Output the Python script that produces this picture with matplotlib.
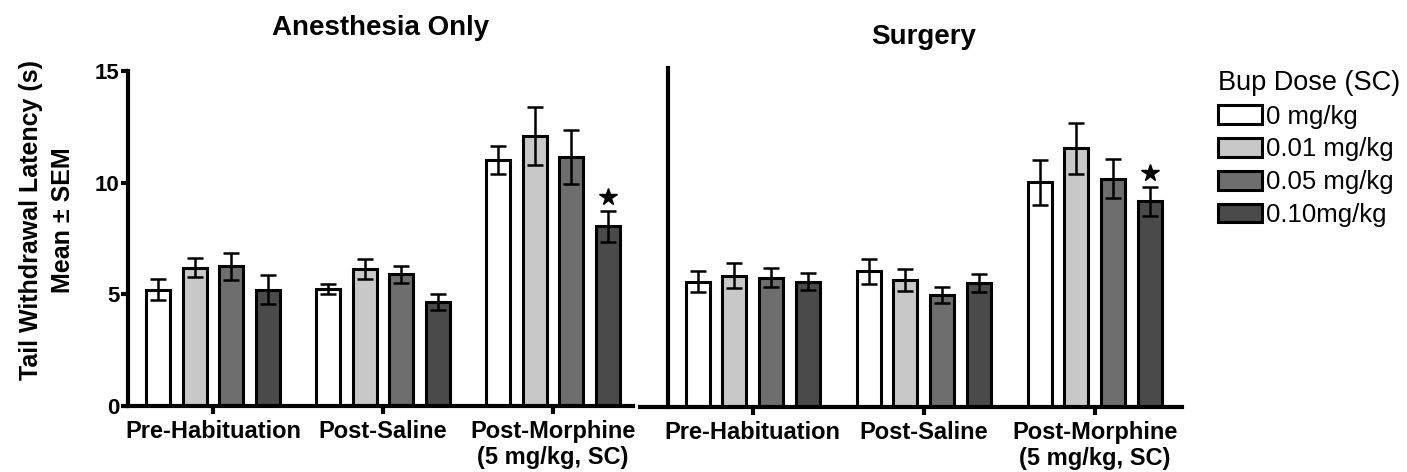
import numpy as np
import matplotlib
matplotlib.use('Agg')
import matplotlib.pyplot as plt
from matplotlib.patches import Patch

plt.rcParams['font.family'] = ['Liberation Sans', 'DejaVu Sans']

# 数据：分组、剂量、均值和SEM
groups = ['Pre-Habituation', 'Post-Saline', 'Post-Morphine\n(5 mg/kg, SC)']
doses = ['0 mg/kg', '0.01 mg/kg', '0.05 mg/kg', '0.10mg/kg']
colors = ['#ffffff', '#c8c8c8', '#6e6e6e', '#4a4a4a']

# Anesthesia Only, 每行一个剂量
anes_mean = [[5.2, 5.25, 11.0],
             [6.2, 6.15, 12.1],
             [6.25, 5.9, 11.15],
             [5.2, 4.65, 8.05]]
anes_sem = [[0.47, 0.22, 0.63],
            [0.42, 0.45, 1.3],
            [0.6, 0.38, 1.2],
            [0.65, 0.37, 0.7]]

# Surgery
surg_mean = [[5.55, 6.0, 9.95],
             [5.8, 5.62, 11.45],
             [5.73, 4.95, 10.1],
             [5.55, 5.47, 9.1]]
surg_sem = [[0.48, 0.54, 1.0],
            [0.55, 0.48, 1.13],
            [0.4, 0.36, 0.86],
            [0.36, 0.4, 0.64]]

# 显著性星号：(组, 剂量)
stars = [(2, 3)]

pitch = 0.215
width = 0.14
x = np.arange(len(groups))

fig = plt.figure(figsize=(14.07, 4.72), dpi=100)
ax1 = fig.add_axes([128/1407, 66/472, 505/1407, 335/472])
ax2 = fig.add_axes([640/1407, 65/472, 542/1407, 339/472])


def draw_panel(ax, means, sems):
    for i in range(len(doses)):
        xi = x + (i - 1.5) * pitch
        ax.bar(xi, means[i], width, color=colors[i], edgecolor='black',
               linewidth=2.2, zorder=2, label=doses[i])
        ax.errorbar(xi, means[i], yerr=sems[i], fmt='none', ecolor='black',
                    elinewidth=1.8, capsize=6, capthick=1.8, zorder=3)
    for g, d in stars:
        xs = x[g] + (d - 1.5) * pitch
        ax.plot(xs, means[d][g] + sems[d][g] + 0.6, marker='*', color='black',
                markersize=13, zorder=4)
    ax.set_ylim(0, 15)
    ax.spines['top'].set_visible(False)
    ax.spines['right'].set_visible(False)
    ax.spines['left'].set_linewidth(3)
    ax.spines['bottom'].set_linewidth(3)
    ax.set_xticks(x)
    ax.set_xticklabels(groups, fontsize=17, fontweight='bold')
    ax.tick_params(axis='x', length=6, width=3, pad=4)


draw_panel(ax1, anes_mean, anes_sem)
ax1.set_xlim(-0.5, 2.47)
ax1.set_yticks([0, 5, 10, 15])
ax1.set_yticklabels(['0', '5', '10', '15'], fontsize=16, fontweight='bold')
ax1.tick_params(axis='y', length=5, width=3, pad=1)
ax1.set_ylabel('Tail Withdrawal Latency (s)\nMean ± SEM', fontsize=18,
               fontweight='bold', linespacing=1.4)
ax1.yaxis.set_label_coords(-0.105, 0.555)

draw_panel(ax2, surg_mean, surg_sem)
ax2.set_xlim(-0.66, 2.51)
ax2.spines['left'].set_position(('data', -0.497))
ax2.set_yticks([])

# 标题
fig.text(381/1407, 1 - 28/472, 'Anesthesia Only', fontsize=20, fontweight='bold',
         ha='center', va='center')
fig.text(924/1407, 1 - 37/472, 'Surgery', fontsize=20, fontweight='bold',
         ha='center', va='center')

# 图例
handles = [Patch(facecolor=c, edgecolor='black', linewidth=2.2) for c in colors]
fig.legend(handles, doses, title='Bup Dose (SC)', loc='upper left',
           bbox_to_anchor=(1218/1407, 1 - 70/472), frameon=False, fontsize=18.5,
           title_fontsize=19.5, alignment='left', handlelength=1.7,
           handleheight=0.75, handletextpad=0.15, labelspacing=0.34,
           borderaxespad=0, borderpad=0)

plt.savefig('out.png', dpi=100)
